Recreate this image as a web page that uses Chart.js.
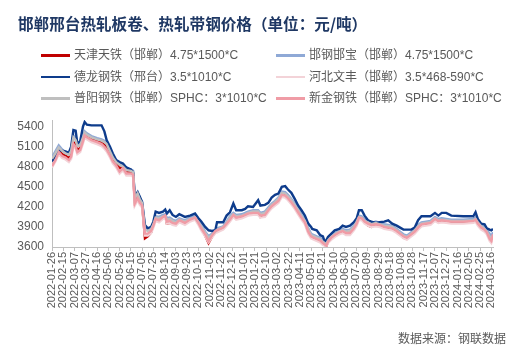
<!DOCTYPE html>
<html>
<head>
<meta charset="utf-8">
<script src="https://cdn.jsdelivr.net/npm/chart.js@4.4.1/dist/chart.umd.min.js"></script>
<style>
  html,body{margin:0;padding:0;background:#fff;}
  #wrap{position:relative;width:522px;height:352px;overflow:hidden;background:#fff;}
  #c{position:absolute;left:0;top:0;}
  #title{position:absolute;left:18px;top:12px;font-family:"Noto Sans CJK SC";font-weight:bold;font-size:15.6px;color:#1F3864;white-space:nowrap;letter-spacing:0px;}
  .lg{position:absolute;height:16px;line-height:16px;font-size:12px;color:#595959;white-space:nowrap;font-family:"Liberation Sans","Noto Sans CJK SC";}
  .lg .ln{position:absolute;left:0;top:7px;width:29px;height:2.5px;}
  .lg .tx{position:absolute;left:33px;top:0;}
  #src{position:absolute;left:398px;top:329px;font-family:"Noto Sans CJK SC";font-size:12px;color:#595959;white-space:nowrap;}
</style>
</head>
<body>
<div id="wrap">
  <canvas id="c" width="522" height="352"></canvas>
  <div id="title">邯郸邢台热轧板卷、热轧带钢价格（单位：元/吨）</div>
  <div id="legend"></div>
  <div id="src">数据来源：钢联数据</div>
</div>
<script>
// x positions: days since 2022-01-26
const days = [0,6,12,18,24,30,34,38,42,45,
  50,55,58,62,70,80,88,93,97,103,
  108,114,120,126,132,140,144,147,152,156,
  160,165,170,176,180,184,190,197,201,204,
  209,214,220,226,236,245,254,260,265,272,
  278,284,290,293,304,310,316,322,327,337,
  343,348,357,366,370,378,384,390,396,402,
  408,414,419,425,431,437,443,449,455,460,
  462,470,476,481,484,487,490,496,502,510,
  516,522,529,536,541,545,550,555,561,567,
  575,582,590,597,604,612,618,624,630,638,
  644,650,656,664,672,680,686,692,700,709,
  730,748,752,756,762,768,772,777,780,783];

const tickLabels = ['2022-01-26','2022-02-15','2022-03-07','2022-03-27','2022-04-16','2022-05-06','2022-05-26','2022-06-15','2022-07-05','2022-07-25','2022-08-14','2022-09-03','2022-09-23','2022-10-13','2022-11-02','2022-11-22','2022-12-12','2023-01-01','2023-01-21','2023-02-10','2023-03-02','2023-03-22','2023-04-11','2023-05-01','2023-05-21','2023-06-10','2023-06-30','2023-07-20','2023-08-09','2023-08-29','2023-09-18','2023-10-08','2023-10-28','2023-11-17','2023-12-07','2023-12-27','2024-01-16','2024-02-05','2024-02-25','2024-03-16'];
const yTicks = [3600,3900,4200,4500,4800,5100,5400];

const tianjin = [4900,4950,5050,4990,4970,4930,4980,5170,5130,5050,
  5080,5210,5290,5260,5220,5190,5160,5130,5090,5000,
  4910,4850,4780,4800,4730,4720,4700,4280,4360,4280,
  4240,3730,3760,3820,3930,4040,4020,4060,4080,3950,
  3960,3950,3960,4010,3970,4020,4050,3950,3880,3770,
  3660,3750,3830,3850,3880,3950,4020,4090,4030,4060,
  4080,4110,4120,4120,4050,4090,4160,4220,4260,4300,
  4390,4380,4340,4280,4210,4130,4050,3970,3830,3760,
  3750,3720,3700,3660,3630,3610,3680,3740,3780,3810,
  3840,3800,3800,3880,3960,4050,4040,3980,3920,3900,
  3940,3930,3900,3890,3870,3830,3790,3740,3720,3780,
  3830,3890,3940,3950,3960,4020,3990,4000,3990,3980,
  3980,3990,4010,3950,3890,3860,3820,3730,3700,3790];

const hangang = [4940,5030,5120,5060,5020,5000,5060,5270,5230,5140,
  5150,5260,5330,5300,5260,5230,5210,5190,5170,5050,
  4960,4890,4860,4820,4770,4760,4740,4340,4420,4330,
  4280,3880,3860,3890,3960,4060,4050,4080,4090,4030,
  4040,4010,3990,4030,4000,4040,4060,3990,3930,3830,
  3760,3800,3850,3880,3910,3980,4060,4110,4080,4090,
  4110,4130,4150,4150,4110,4130,4190,4250,4290,4340,
  4430,4420,4380,4320,4250,4170,4080,4010,3880,3800,
  3790,3760,3740,3700,3680,3660,3720,3770,3810,3840,
  3870,3850,3860,3920,4000,4070,4060,4010,3990,3960,
  3980,3960,3940,3930,3920,3870,3830,3790,3770,3820,
  3870,3930,3970,3980,3990,4050,4020,4030,4020,4010,
  4010,4020,4040,3990,3940,3900,3860,3800,3760,3820];

const delong = [4880,4960,5050,5040,5030,5010,5100,5350,5340,5150,
  5180,5400,5470,5430,5420,5420,5420,5330,5200,5100,
  5000,4900,4870,4850,4790,4760,4720,4370,4420,4350,
  4270,3930,3880,3900,3980,4130,4110,4130,4160,4100,
  4150,4080,4050,4090,4050,4070,4100,4030,3980,3900,
  3850,3840,3850,3970,3970,4070,4120,4250,4150,4150,
  4170,4210,4200,4300,4220,4230,4260,4340,4380,4400,
  4500,4510,4460,4410,4320,4220,4150,4070,3950,3900,
  3870,3850,3780,3760,3680,3700,3750,3800,3850,3870,
  3920,3900,3920,3970,4030,4150,4150,4070,4000,3980,
  3960,3970,3980,4000,3950,3920,3890,3860,3860,3860,
  3890,4000,4060,4060,4060,4110,4070,4110,4110,4070,
  4060,4060,4120,4020,3950,3940,3880,3860,3850,3870];

const wenfeng = [4790,4880,4990,4930,4910,4870,4920,5110,5070,4990,
  5020,5150,5240,5210,5170,5140,5110,5070,5030,4940,
  4850,4790,4700,4750,4670,4670,4650,4220,4300,4230,
  4190,3770,3770,3810,3890,3990,3970,4020,4040,3950,
  3960,3930,3920,3970,3930,3980,4010,3930,3850,3760,
  3670,3740,3810,3820,3860,3920,3980,4050,4010,4030,
  4050,4070,4080,4080,4040,4050,4120,4180,4220,4260,
  4350,4340,4300,4240,4170,4090,4010,3940,3800,3730,
  3720,3690,3670,3630,3620,3610,3660,3710,3750,3790,
  3810,3780,3780,3850,3920,4010,4000,3950,3920,3900,
  3910,3900,3870,3860,3850,3810,3770,3730,3710,3760,
  3800,3860,3910,3920,3930,3990,3960,3970,3960,3950,
  3950,3960,3980,3920,3860,3830,3790,3690,3660,3740];

const puyang = [4920,5000,5090,5040,5000,4980,5040,5240,5200,5110,
  5120,5240,5310,5280,5240,5210,5190,5170,5140,5030,
  4940,4870,4830,4800,4750,4740,4720,4320,4400,4310,
  4260,3860,3840,3870,3940,4040,4030,4060,4070,4010,
  4020,3990,3970,4010,3980,4020,4040,3970,3910,3810,
  3740,3780,3830,3860,3900,3960,4040,4090,4060,4070,
  4090,4110,4130,4130,4090,4110,4170,4230,4270,4320,
  4410,4400,4360,4300,4230,4150,4060,3990,3860,3780,
  3770,3740,3720,3680,3660,3640,3700,3750,3790,3830,
  3850,3830,3840,3900,3980,4050,4040,3990,3970,3940,
  3960,3940,3920,3910,3900,3850,3810,3770,3750,3800,
  3850,3910,3950,3960,3970,4030,4000,4010,4000,3990,
  3990,4000,4020,3970,3910,3870,3830,3760,3720,3770];

const xinjin = [4810,4900,5020,4960,4940,4900,4950,5140,5100,5020,
  5050,5180,5270,5240,5200,5170,5140,5100,5060,4970,
  4880,4820,4730,4780,4700,4700,4680,4250,4330,4260,
  4220,3800,3800,3840,3920,4020,4000,4050,4070,3980,
  3990,3960,3950,4000,3960,4010,4040,3960,3880,3790,
  3690,3770,3840,3850,3890,3950,4010,4080,4040,4060,
  4080,4100,4110,4110,4070,4080,4150,4210,4250,4290,
  4380,4370,4330,4270,4200,4120,4040,3970,3830,3760,
  3750,3720,3700,3660,3640,3620,3680,3740,3780,3820,
  3840,3810,3810,3880,3950,4040,4030,3980,3950,3930,
  3940,3930,3900,3890,3880,3840,3800,3760,3740,3790,
  3830,3890,3940,3950,3960,4020,3990,4000,3990,3980,
  3980,3990,4010,3950,3890,3860,3820,3720,3690,3790];

const seriesNames = ['天津天铁（邯郸）4.75*1500*C','邯钢邯宝（邯郸）4.75*1500*C','德龙钢铁（邢台）3.5*1010*C','河北文丰（邯郸）3.5*468-590*C','普阳钢铁（邯郸）SPHC：3*1010*C','新金钢铁（邯郸）SPHC：3*1010*C'];
const seriesValues = [tianjin, hangang, delong, wenfeng, puyang, xinjin];
const seriesColors = ['#C00000','#8FA9D6','#0E3C8C','#F3D3D8','#BFBFBF','#F09CA6'];

// HTML legend (2 columns x 3 rows)
const lg = document.getElementById('legend');
seriesNames.forEach((n,i)=>{
  const col = i % 2, row = Math.floor(i/2);
  const d = document.createElement('div');
  d.className = 'lg';
  d.style.left = (col ? 276 : 41) + 'px';
  d.style.top = (47 + row*21.5) + 'px';
  d.innerHTML = '<div class="ln" style="background:'+seriesColors[i]+'"></div><div class="tx"></div>';
  d.querySelector('.tx').textContent = n;
  lg.appendChild(d);
});

const datasets = seriesValues.map((vals,i)=>({
  label: seriesNames[i],
  data: days.map((d,j)=>({x:d, y:vals[j]})),
  borderColor: seriesColors[i],
  backgroundColor: seriesColors[i],
  borderWidth: 2.4,
  pointRadius: 0,
  tension: 0,
  fill: false,
  order: 6 - i
}));

new Chart(document.getElementById('c'), {
  type: 'line',
  data: { datasets },
  options: {
    responsive: false,
    animation: false,
    events: [],
    layout: { padding: { top: 120, right: 29, bottom: 35, left: 0 } },
    plugins: { legend: { display: false }, tooltip: { enabled: false }, title: { display: false } },
    scales: {
      x: {
        type: 'linear', min: 0, max: 783,
        afterFit: s => { s.height = 70; },
        afterBuildTicks: s => { s.ticks = tickLabels.map((t,i)=>({ value: i*20 })); },
        ticks: {
          autoSkip: false, maxRotation: 90, minRotation: 90, padding: 1,
          color: '#595959', font: { family: 'Liberation Sans', size: 11 },
          callback: v => tickLabels[Math.round(v/20)]
        },
        grid: { drawOnChartArea: false, drawTicks: true, tickLength: 4, color: '#BFBFBF', lineWidth: 1 },
        border: { color: '#BFBFBF', width: 1 }
      },
      y: {
        min: 3600, max: 5500,
        afterFit: s => { s.width = 52; },
        afterBuildTicks: s => { s.ticks = yTicks.map(v=>({ value: v })); },
        ticks: { padding: 8, color: '#595959', font: { family: 'Liberation Sans', size: 12 }, callback: v => String(v) },
        grid: { drawOnChartArea: false, drawTicks: false, color: '#BFBFBF' },
        border: { color: '#BFBFBF', width: 1 }
      }
    }
  }
});
</script>
</body>
</html>
